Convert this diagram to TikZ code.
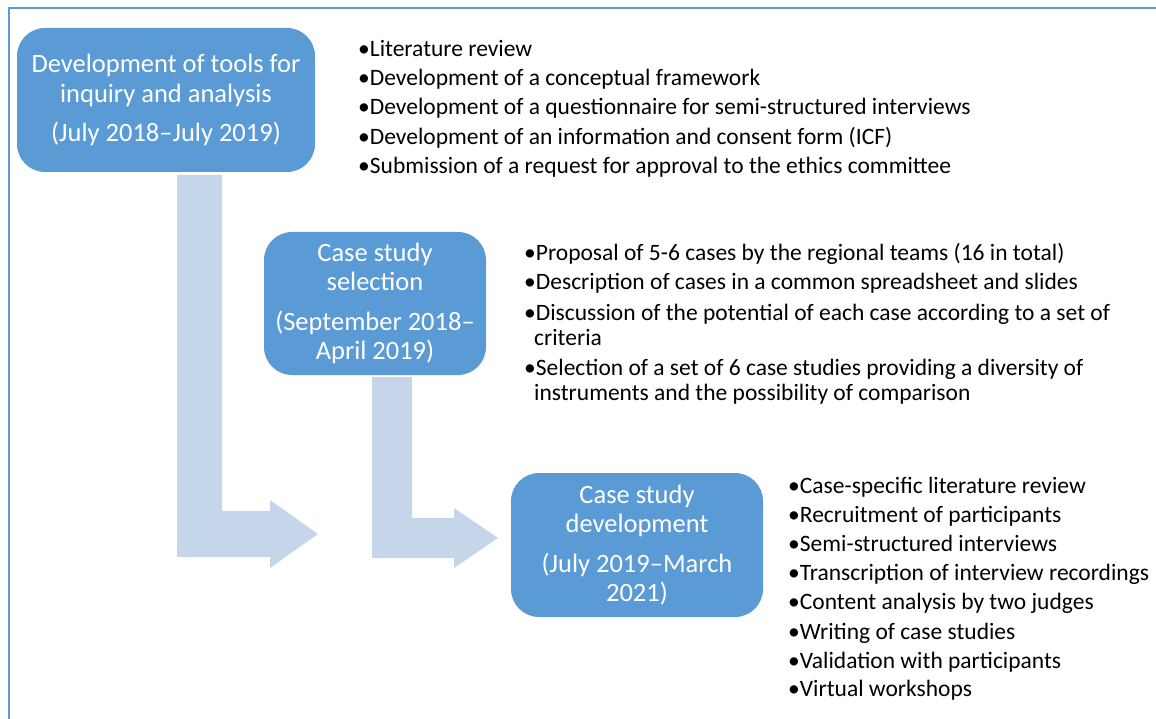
\documentclass[tikz,border=0pt]{standalone}
\usepackage{fontspec}
\setmainfont{Carlito}
\definecolor{boxblue}{HTML}{5B9BD5}
\definecolor{arrowblue}{HTML}{C5D5EA}
\begin{document}
\begin{tikzpicture}[x=1pt,y=-1pt,
  stage/.style={fill=boxblue, rounded corners=28pt, text=white, align=center,
    font=\fontsize{26.5}{29.5}\selectfont, inner sep=0pt},
  item/.style={anchor=base west, font=\fontsize{23.5}{25}\selectfont, inner sep=0pt},
  flow/.style={fill=arrowblue}]
\useasboundingbox (0,0) rectangle (1156,719);
\draw[boxblue, line width=2pt] (1156,8) -- (9,8) -- (9,719);

% bent arrows
\fill[flow] (177,175) -- (222,175) -- (222,511) -- (270,511) -- (270,500) -- (318,534)
  -- (270,568) -- (270,557) -- (177,557) -- cycle;
\fill[flow] (372,377) -- (412,377) -- (412,518) -- (454,518) -- (454,508) -- (498,538)
  -- (454,568) -- (454,558) -- (372,558) -- cycle;

% stages
\node[stage, minimum width=298pt, minimum height=144pt] (s1) at (166,100)
  {Development of tools for\\inquiry and analysis\\[10pt](July 2018--July 2019)};
\node[stage, minimum width=222pt, minimum height=143pt] (s2) at (375,303.5)
  {Case study\\selection\\[10pt](September 2018--\\April 2019)};
\node[stage, minimum width=252pt, minimum height=144pt] (s3) at (637,545)
  {Case study\\development\\[10pt](July 2019--March\\2021)};

% list 1
\node[item] (a1) at (358,57) {•Literature review};
\node[item] (a2) at (358,86) {•Development of a conceptual framework};
\node[item] (a3) at (358,115) {•Development of a questionnaire for semi-structured interviews};
\node[item] (a4) at (358,145) {•Development of an information and consent form (ICF)};
\node[item] (a5) at (358,174) {•Submission of a request for approval to the ethics committee};

% list 2
\node[item] (b1) at (524,261) {•Proposal of 5-6 cases by the regional teams (16 in total)};
\node[item] (b2) at (524,290) {•Description of cases in a common spreadsheet and slides};
\node[item] (b3) at (524,320) {•Discussion of the potential of each case according to a set of};
\node[item] (b3b) at (534,345) {criteria};
\node[item] (b4) at (524,375) {•Selection of a set of 6 case studies providing a diversity of};
\node[item] (b4b) at (534,400) {instruments and the possibility of comparison};

% list 3
\node[item] (c1) at (788,493) {•Case-specific literature review};
\node[item] (c2) at (788,522) {•Recruitment of participants};
\node[item] (c3) at (788,551) {•Semi-structured interviews};
\node[item] (c4) at (788,580) {•Transcription of interview recordings};
\node[item] (c5) at (788,609) {•Content analysis by two judges};
\node[item] (c6) at (788,639) {•Writing of case studies};
\node[item] (c7) at (788,668) {•Validation with participants};
\node[item] (c8) at (788,696) {•Virtual workshops};
\end{tikzpicture}
\end{document}
